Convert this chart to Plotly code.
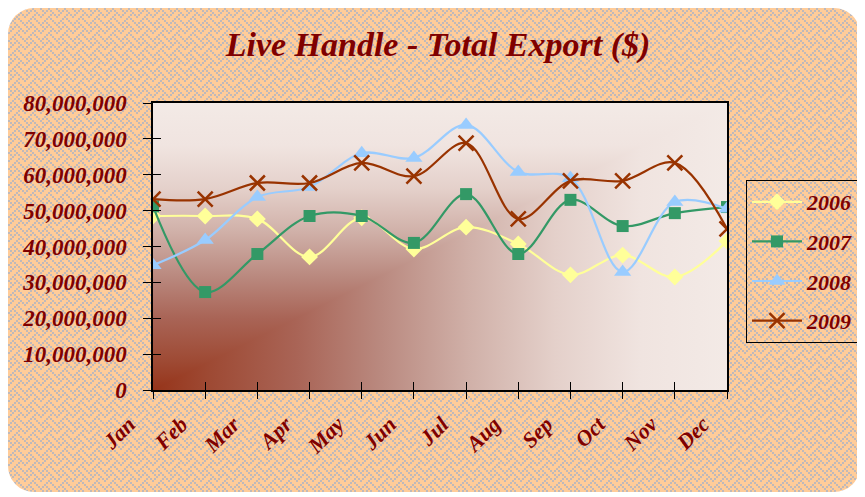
import base64
import plotly.graph_objects as go

months = ["Jan", "Feb", "Mar", "Apr", "May", "Jun", "Jul", "Aug", "Sep", "Oct", "Nov", "Dec"]
s2006 = [48500000, 48500000, 47700000, 37100000, 48000000, 39300000, 45400000, 40700000, 32100000, 37600000, 31500000, 41500000]
s2007 = [51200000, 27300000, 37900000, 48500000, 48500000, 41000000, 54600000, 37900000, 53000000, 45700000, 49300000, 51000000]
s2008 = [34800000, 41800000, 53800000, 56600000, 66000000, 64700000, 73900000, 60800000, 59000000, 32900000, 52400000, 50500000]
s2009 = [53200000, 53200000, 57700000, 57700000, 63300000, 59600000, 68800000, 47700000, 58300000, 58300000, 63300000, 44900000]
series_names = ["2006", "2007", "2008", "2009"]
y_ticks = [0, 10000000, 20000000, 30000000, 40000000, 50000000, 60000000, 70000000, 80000000]

W, H = 865, 497
OFF = 8  # page offset of the figure
L, T = 153 - OFF, 103 - OFF
PW, PH = 574, 287
R = W - L - PW
B = H - T - PH

DARK = "#800000"
FONT = "Liberation Serif"

# ---------- background card (weave pattern) ----------
bits = [0x88, 0x54, 0x22, 0x45, 0x88, 0x14, 0x22, 0x51]
grey = "#BFB9BA"
cells = []
for r, b in enumerate(bits):
    for c in range(8):
        if b & (0x80 >> c):
            cells.append(f'<rect x="{c*2}" y="{r*2}" width="2" height="2" fill="{grey}"/>')
card_svg = (
    f'<svg xmlns="http://www.w3.org/2000/svg" width="{W}" height="{H}" viewBox="0 0 {W} {H}">'
    '<defs><pattern id="w" width="16" height="16" patternUnits="userSpaceOnUse">'
    '<rect width="16" height="16" fill="#FFCC99"/>' + "".join(cells) +
    '</pattern></defs>'
    '<rect x="0" y="0" width="852" height="484" rx="26" ry="26" fill="url(#w)"/>'
    '</svg>'
)

stops = [(0, "#96341A"), (0.1, "#9E4A34"), (0.25, "#A96456"), (0.4, "#BA8A80"),
         (0.55, "#D0B0A8"), (0.7, "#E4D0CA"), (0.85, "#F0E4E0"), (1, "#F3EAE6")]
stop_xml = "".join(f'<stop offset="{o}" stop-color="{c}"/>' for o, c in stops)
grad_svg = (
    f'<svg xmlns="http://www.w3.org/2000/svg" width="{PW}" height="{PH}" viewBox="0 0 100 100" preserveAspectRatio="none">'
    f'<defs><linearGradient id="h" x1="0" y1="0" x2="1" y2="0">{stop_xml}</linearGradient>'
    f'<linearGradient id="v" x1="0" y1="1" x2="0" y2="0">{stop_xml}</linearGradient></defs>'
    '<rect width="100" height="100" fill="url(#h)"/>'
    '<polygon points="0,100 0,0 100,0" fill="url(#v)"/>'
    '</svg>'
)


def uri(svg):
    return "data:image/svg+xml;base64," + base64.b64encode(svg.encode()).decode()


fig = go.Figure()

styles = [
    dict(color="#FFFF99", symbol="diamond", size=13),
    dict(color="#339966", symbol="square", size=12),
    dict(color="#99CCFF", symbol="triangle-up", size=15),
    dict(color="#993300", symbol="x-thin", size=15),
]
for name, vals, st in zip(series_names, [s2006, s2007, s2008, s2009], styles):
    marker = dict(symbol=st["symbol"], size=st["size"], color=st["color"],
                  line=dict(color=st["color"], width=2.5 if st["symbol"] == "x-thin" else 0))
    fig.add_trace(go.Scatter(
        x=months, y=vals, name=name, mode="lines+markers", legendgroup=name,
        line=dict(color=st["color"], width=2.2, shape="spline"),
        marker=marker, hoverinfo="skip",
    ))

# overlay axes to give crossing tick marks
fig.add_trace(go.Scatter(x=[], y=[], xaxis="x2", yaxis="y2", showlegend=False, hoverinfo="skip"))

tfont = dict(family=FONT, size=23, color=DARK, weight="bold", style="italic")
xfont = dict(family=FONT, size=22, color=DARK, weight="bold", style="italic")

fig.update_layout(
    width=W, height=H, autosize=False,
    margin=dict(l=L, r=R, t=T, b=B, autoexpand=False),
    paper_bgcolor="white", plot_bgcolor="rgba(0,0,0,0)",
    title=dict(text="Live Handle - Total Export ($)", x=(438 - OFF - L) / PW, xref="paper",
               xanchor="center", y=1 - (44 - OFF) / H, yanchor="middle",
               font=dict(family=FONT, size=34, color=DARK, weight="bold", style="italic")),
    xaxis=dict(type="category", range=[0, 11], showgrid=False, showline=True, linecolor="black",
               linewidth=1.5, mirror=True, ticks="inside", ticklen=8, tickcolor="black",
               tickangle=-45, tickfont=xfont, ticklabelstandoff=11, ticklabelshift=-24,
               zeroline=False, automargin=False),
    yaxis=dict(range=[0, 80000000], tickvals=y_ticks, tickformat=",d", showgrid=False,
               showline=True, linecolor="black", linewidth=1.5, mirror=True, ticks="outside",
               ticklen=8, tickcolor="black", tickfont=tfont, ticklabelstandoff=12, zeroline=False,
               automargin=False),
    xaxis2=dict(overlaying="x", anchor="y", range=[0, 11], tickvals=list(range(12)),
                showticklabels=False, ticks="outside", ticklen=8, tickcolor="black",
                showgrid=False, zeroline=False, showline=False, automargin=False),
    yaxis2=dict(overlaying="y", anchor="x", side="left", range=[0, 80000000], tickvals=y_ticks,
                showticklabels=False, ticks="inside", ticklen=8, tickcolor="black",
                showgrid=False, zeroline=False, showline=False, automargin=False),
    legend=dict(x=(746 - OFF - L) / PW, xanchor="left", y=(390 - 180) / PH, yanchor="top",
                bgcolor="rgba(0,0,0,0)", bordercolor="black", borderwidth=1,
                font=dict(family=FONT, size=22, color=DARK, weight="bold", style="italic"),
                tracegroupgap=8, itemwidth=50, entrywidth=120, traceorder="grouped"),
    images=[
        dict(source=uri(card_svg), xref="paper", yref="paper", x=-L / PW, y=(H - B) / PH,
             sizex=W / PW, sizey=H / PH, xanchor="left", yanchor="top", sizing="stretch",
             layer="below"),
        dict(source=uri(grad_svg), xref="paper", yref="paper", x=0, y=1, sizex=1, sizey=1,
             xanchor="left", yanchor="top", sizing="stretch", layer="below"),
    ],
    showlegend=True,
)

fig.write_html("out.html")
